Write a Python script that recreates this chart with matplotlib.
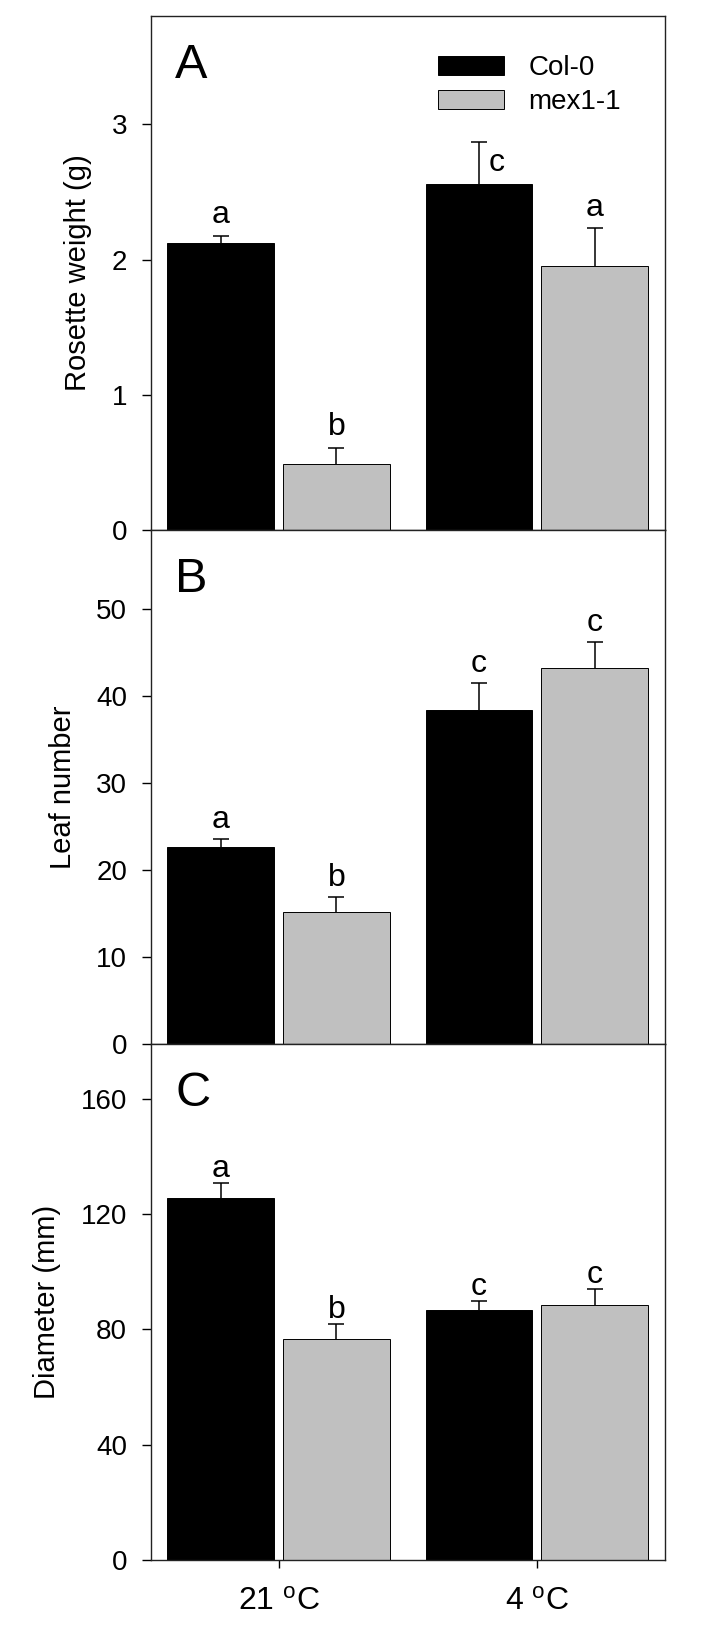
import matplotlib.pyplot as plt
import numpy as np
from matplotlib.patches import Patch

plt.rcParams['font.family'] = ['Liberation Sans', 'DejaVu Sans']
plt.rcParams['mathtext.fontset'] = 'custom'
plt.rcParams['mathtext.rm'] = 'Liberation Sans'
plt.rcParams['mathtext.it'] = 'Liberation Sans'

# data (means and upper SE)
conditions = [r'21 $^{\mathrm{o}}$C', r'4 $^{\mathrm{o}}$C']
genotypes = ['Col-0', 'mex1-1']

rosette_col = [2.12, 2.56]
rosette_col_se = [0.055, 0.31]
rosette_mex = [0.49, 1.95]
rosette_mex_se = [0.12, 0.28]
rosette_col_sig = ['a', 'c']
rosette_mex_sig = ['b', 'a']

leaf_col = [22.6, 38.35]
leaf_col_se = [0.95, 3.1]
leaf_mex = [15.2, 43.2]
leaf_mex_se = [1.65, 3.0]
leaf_col_sig = ['a', 'c']
leaf_mex_sig = ['b', 'c']

diam_col = [125.6, 86.6]
diam_col_se = [5.2, 3.1]
diam_mex = [76.8, 88.6]
diam_mex_se = [5.0, 5.4]
diam_col_sig = ['a', 'c']
diam_mex_sig = ['b', 'c']

BLACK = '#000000'
GRAY = '#c0c0c0'


def draw_panel(ax, col, col_se, mex, mex_se, col_sig, mex_sig, ylim, yticks,
               ylabel, tag, gap, special=None):
    x = np.arange(len(conditions))
    width = 0.414
    off = 0.224
    for xs, vals, se, sig, color in [(x - off, col, col_se, col_sig, BLACK),
                                     (x + off, mex, mex_se, mex_sig, GRAY)]:
        ax.bar(xs, vals, width, color=color, edgecolor='black', linewidth=0.7,
               zorder=2)
        eb = ax.errorbar(xs, vals, yerr=[np.zeros(len(se)), se], fmt='none',
                         ecolor='black', elinewidth=1.1, capsize=5.5,
                         capthick=1.1, zorder=1)
        # only the upper cap, like the original
        eb[1][0].set_visible(False)
        for i, (xi, v, s, letter) in enumerate(zip(xs, vals, se, sig)):
            dx, dy = 0, gap
            if special is not None and (color, i) in special:
                dx, dy = special[(color, i)]
            ax.annotate(letter, (xi, v + s), xytext=(dx, dy),
                        textcoords='offset points', ha='center',
                        va='baseline', fontsize=23)
    ax.set_xlim(-0.493, 1.497)
    ax.set_ylim(*ylim)
    ax.set_yticks(yticks)
    ax.set_ylabel(ylabel, fontsize=21, labelpad=14)
    ax.tick_params(axis='y', direction='out', length=6.5, width=1,
                   labelsize=20, pad=11)
    ax.text(0.046, 0.88, tag, transform=ax.transAxes, fontsize=35,
            va='baseline', ha='left')
    for sp in ax.spines.values():
        sp.set_linewidth(1.0)
        sp.set_color('#222222')


fig = plt.figure(figsize=(7.17, 16.26), dpi=100)
left, right = 0.2112, 0.9275
bounds = [0.9902, 0.6739, 0.3579, 0.0406]
axes = []
for k in range(3):
    ax = fig.add_axes([left, bounds[k + 1], right - left, bounds[k] - bounds[k + 1]])
    axes.append(ax)

draw_panel(axes[0], rosette_col, rosette_col_se, rosette_mex, rosette_mex_se,
           rosette_col_sig, rosette_mex_sig, (0, 3.8), [0, 1, 2, 3],
           'Rosette weight (g)', 'A', 9, special={(BLACK, 1): (13, -21)})
draw_panel(axes[1], leaf_col, leaf_col_se, leaf_mex, leaf_mex_se,
           leaf_col_sig, leaf_mex_sig, (0, 59), [0, 10, 20, 30, 40, 50],
           'Leaf number', 'B', 8)
draw_panel(axes[2], diam_col, diam_col_se, diam_mex, diam_mex_se,
           diam_col_sig, diam_mex_sig, (0, 179), [0, 40, 80, 120, 160],
           'Diameter (mm)', 'C', 4.5)

for ax in axes[:2]:
    ax.tick_params(axis='x', bottom=False, labelbottom=False)
axes[2].set_xticks(np.arange(len(conditions)))
axes[2].set_xticklabels(conditions, fontsize=23)
axes[2].tick_params(axis='x', direction='out', length=5.5, width=1, pad=14)

handles = [Patch(facecolor=BLACK, edgecolor='black', linewidth=0.7),
           Patch(facecolor=GRAY, edgecolor='black', linewidth=0.7)]
axes[0].legend(handles, genotypes, loc='upper left', frameon=False,
               bbox_to_anchor=(438 / 717, 1 - 55 / 1626),
               bbox_transform=fig.transFigure, fontsize=20, borderpad=0,
               handlelength=2.36, handleheight=0.66, handletextpad=0.9,
               labelspacing=0.3, borderaxespad=0)

fig.savefig('out.png', dpi=100)
